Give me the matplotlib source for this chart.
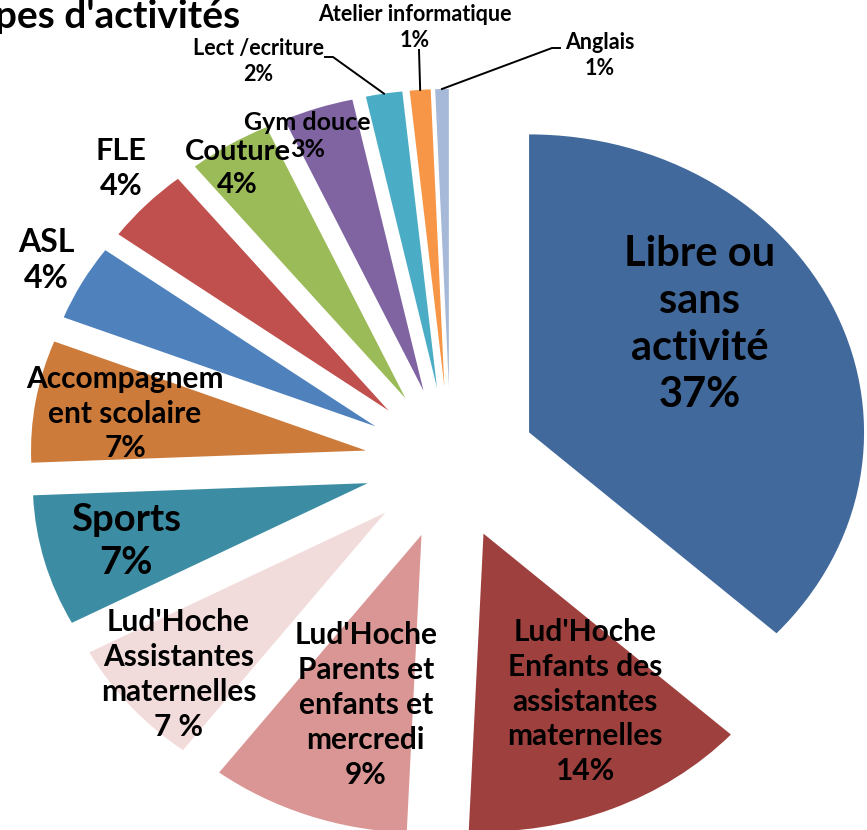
import numpy as np
import matplotlib

matplotlib.use("Agg")
import matplotlib.pyplot as plt

plt.rcParams["font.family"] = ["Lato", "DejaVu Sans"]

# Data (share of participants, %)
categories = [
    "Libre ou\nsans\nactivité",
    "Lud'Hoche\nEnfants des\nassistantes\nmaternelles",
    "Lud'Hoche\nParents et\nenfants et\nmercredi",
    "Lud'Hoche\nAssistantes\nmaternelles",
    "Sports",
    "Accompagnem\nent scolaire",
    "ASL",
    "FLE",
    "Couture",
    "Gym douce",
    "Lect /ecriture",
    "Atelier informatique",
    "Anglais",
]
values = [36.7, 13.9, 9.6, 6.9, 7.1, 6.6, 4.1, 4.1, 4.0, 3.4, 1.75, 1.0, 0.65]
pct_labels = ["37%", "14%", "9%", "7 %", "7%", "7%", "4%", "4%", "4%", "3%", "2%", "1%", "1%"]
colors = [
    "#41699C", "#9E413E", "#D99694", "#F2DCDB", "#3C8DA3", "#CD7B3A", "#4F81BD",
    "#C0504D", "#9BBB59", "#8064A2", "#4BACC6", "#F79646", "#A7B9D8",
]

W, H = 867, 830
CX, CY, RX, RY = 450.6, 463.2, 335.0, 298.0  # pie centre / radii in pixels


def px(x, y):
    # pixel position -> data coordinates of the stretched pie
    return (x - CX) / RX, (CY - y) / RY


fig = plt.figure(figsize=(W / 100, H / 100), dpi=100)
ax = fig.add_axes([0, 0, 1, 1])
wedges, _ = ax.pie(
    values,
    colors=colors,
    startangle=90,
    counterclock=False,
    explode=[0.256] * len(values),
    wedgeprops={"linewidth": 0},
)
ax.set_aspect("auto")
ax.set_xlim(-CX / RX, (W - CX) / RX)
ax.set_ylim((CY - H) / RY, CY / RY)
ax.axis("off")

# label placement: (radius, angle) measured from each exploded wedge tip
label_pos = [
    (0.625, 35.4), (0.64, -61.7), (0.594, -106.3), (0.823, -138.6),
    (0.748, -164.9), (0.73, 170.2), (1.13, 150.5), (1.138, 134.5),
    (0.92, 123.0), (0.923, 112.0), (1.217, 116.0), (1.211, 94.2), (1.199, 67.9),
]
sizes = [30, 21.5, 21.5, 21.5, 27.5, 21.5, 23, 22, 21, 18, 15.5, 15.5, 15.5]
spacing = [1.3, 1.3, 1.3, 1.3, 1.33, 1.27, 1.3, 1.3, 1.33, 1.2, 1.3, 1.3, 1.3]

for w, name, pct, (r, a), fs, ls in zip(wedges, categories, pct_labels, label_pos,
                                        sizes, spacing):
    cx, cy = w.center
    x = cx + r * np.cos(np.radians(a))
    y = cy + r * np.sin(np.radians(a))
    ax.text(x, y, f"{name}\n{pct}", ha="center", va="center", fontsize=fs,
            fontweight="bold", linespacing=ls, color="black")

# leader lines for the three smallest slices
leaders = {
    10: [(333, 57), (325, 57)],
    11: [(419, 50)],
    12: [(552, 48), (560, 48)],
}
for i, pts in leaders.items():
    w = wedges[i]
    mid = np.radians((w.theta1 + w.theta2) / 2)
    xs = [w.center[0] + np.cos(mid)]
    ys = [w.center[1] + np.sin(mid)]
    for p in pts:
        dx, dy = px(*p)
        xs.append(dx)
        ys.append(dy)
    ax.plot(xs, ys, color="black", linewidth=1.4)

# title is cropped by the left edge in the original picture
fig.text(240 / W, 1 - 17 / H, "Types d'activités", ha="right", va="center",
         fontsize=28, fontweight="bold")

fig.savefig("out.png", dpi=100)
